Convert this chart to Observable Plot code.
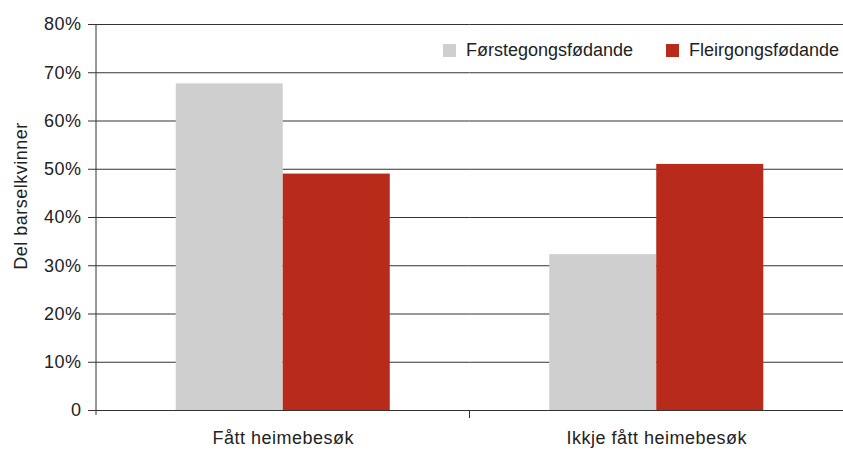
<!DOCTYPE html>
<html>
<head>
<meta charset="utf-8">
<script src="https://cdn.jsdelivr.net/npm/d3@7"></script>
<script src="https://cdn.jsdelivr.net/npm/@observablehq/plot@0.6"></script>
<style>
  html, body { margin: 0; padding: 0; background: #fff; }
  #wrap { position: relative; width: 843px; height: 451px; font-family: "Liberation Sans", Arial, sans-serif; }
  #wrap svg text { letter-spacing: 0.5px; }
  .lg { position: absolute; top: 40px; height: 21px; display: flex; align-items: center; font-size: 18px; line-height: 21px; color: #222; white-space: nowrap; }
  .lg .sw { width: 13px; height: 13px; display: inline-block; margin-right: 10px; }
</style>
</head>
<body>
<div id="wrap"></div>
<script>
const categories = ["Fått heimebesøk", "Ikkje fått heimebesøk"];
const seriesNames = ["Førstegongsfødande", "Fleirgongsfødande"];
const forstegongs = [0.677, 0.323];
const fleirgongs = [0.49, 0.51];
const colors = ["#cfcfcf", "#b82a1a"];
const yTicks = [0, 0.1, 0.2, 0.3, 0.4, 0.5, 0.6, 0.7, 0.8];
const yTitle = "Del barselkvinner";

const rows = [];
categories.forEach((c, i) => {
  rows.push({category: c, series: seriesNames[0], value: forstegongs[i]});
  rows.push({category: c, series: seriesNames[1], value: fleirgongs[i]});
});

const ink = "#333";
const chart = Plot.plot({
  width: 843,
  height: 451,
  marginLeft: 96,
  marginRight: 0,
  marginTop: 24,
  marginBottom: 41,
  style: {fontFamily: "Liberation Sans, Arial, sans-serif", fontSize: "18px", color: "#222", background: "#fff"},
  fx: {domain: categories, padding: 0, label: null, round: false},
  x: {domain: seriesNames, paddingInner: 0, paddingOuter: 0.745, axis: null, round: false},
  y: {domain: [0, 0.8], label: null},
  color: {domain: seriesNames, range: colors},
  marks: [
    Plot.gridY(yTicks, {stroke: ink, strokeOpacity: 1, strokeWidth: 1}),
    Plot.axisY(yTicks, {
      anchor: "left",
      tickSize: 8,
      tickPadding: 7,
      stroke: ink,
      fontSize: 18,
      tickFormat: d => d === 0 ? "0" : d3.format(".0%")(d),
      label: null
    }),
    Plot.axisFx({anchor: "bottom", tickSize: 0, tickPadding: 21, fontSize: 18, label: null}),
    Plot.barY(rows, {fx: "category", x: "series", y: "value", fill: "series", inset: 0}),
    Plot.ruleY([0], {stroke: ink})
  ]
});

// y-axis line, category boundary ticks and y title, placed with the chart's own scales
const svg = d3.select(chart);
const fx = chart.scale("fx");
const y = chart.scale("y");
const y0 = y.apply(0), yTop = y.apply(0.8);
const x0 = fx.apply(categories[0]);
svg.append("line").attr("x1", x0).attr("x2", x0).attr("y1", yTop).attr("y2", y0 + 5).attr("stroke", ink);
categories.slice(1).forEach(c => {
  const xb = fx.apply(c);
  svg.append("line").attr("x1", xb).attr("x2", xb).attr("y1", y0).attr("y2", y0 + 8).attr("stroke", ink);
});
svg.append("text")
  .attr("transform", `translate(27,196) rotate(-90)`)
  .attr("text-anchor", "middle")
  .attr("fill", "#222")
  .style("font-size", "18px")
  .text(yTitle);

const wrap = document.getElementById("wrap");
wrap.appendChild(chart);
const legendLeft = [443, 666];
seriesNames.forEach((s, i) => {
  const item = document.createElement("div");
  item.className = "lg";
  item.style.left = legendLeft[i] + "px";
  const sw = document.createElement("span");
  sw.className = "sw";
  sw.style.background = colors[i];
  item.appendChild(sw);
  item.appendChild(document.createTextNode(s));
  wrap.appendChild(item);
});
</script>
</body>
</html>
